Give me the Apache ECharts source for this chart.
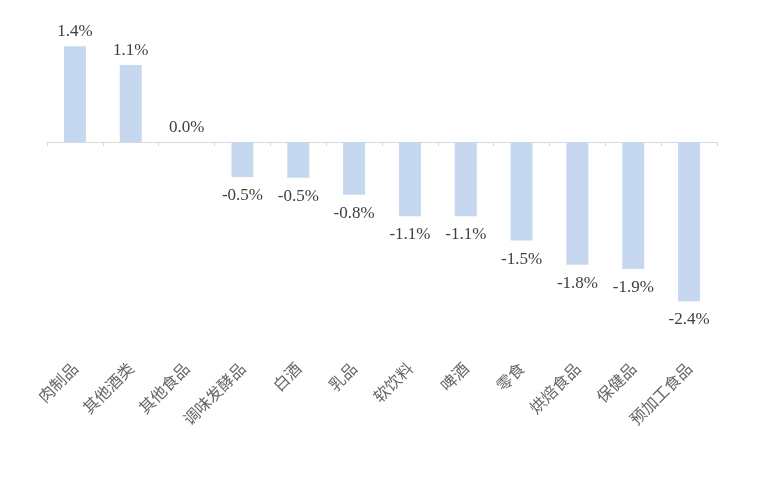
<!DOCTYPE html>
<html><head><meta charset="utf-8">
<script src="https://cdn.jsdelivr.net/npm/echarts@6/dist/echarts.min.js"></script>
<style>html,body{margin:0;padding:0;background:#fff}#c{width:760px;height:486px}</style>
</head><body><div id="c"></div>
<script>
var categories = ['肉制品','其他酒类','其他食品','调味发酵品','白酒','乳品','软饮料','啤酒','零食','烘焙食品','保健品','预加工食品'];
var values = [1.42, 1.14, 0.0, -0.52, -0.53, -0.78, -1.10, -1.10, -1.46, -1.82, -1.88, -2.36];

var chart = echarts.init(document.getElementById('c'));
var data = values.map(function(v){
  return {value: v, label: {position: v >= 0 ? 'top' : 'bottom', distance: v >= 0 ? 6 : 10}};
});
chart.setOption({
  animation: false,
  grid: {left: 47, right: 43, top: 7, bottom: 141.5, containLabel: false, outerBoundsMode: 'none'},
  xAxis: {
    type: 'category',
    data: categories,
    axisLine: {onZero: true, lineStyle: {color: '#d9d9d9', width: 1}},
    axisTick: {show: true, length: 4, lineStyle: {color: '#d9d9d9'}},
    axisLabel: {rotate: 45, margin: 21, interval: 0, fontSize: 16, color: '#666666', fontFamily: 'Noto Sans CJK SC'}
  },
  yAxis: {
    type: 'value', min: -3, max: 2, show: false,
    splitLine: {show: false}
  },
  series: [{
    type: 'bar',
    data: data,
    barWidth: 22,
    itemStyle: {color: '#c6d8f0'},
    label: {
      show: true,
      fontFamily: 'Liberation Serif',
      fontSize: 17,
      color: '#404040',
      formatter: function(p){ return p.value.toFixed(1) + '%'; }
    }
  }]
});
</script>
</body></html>
